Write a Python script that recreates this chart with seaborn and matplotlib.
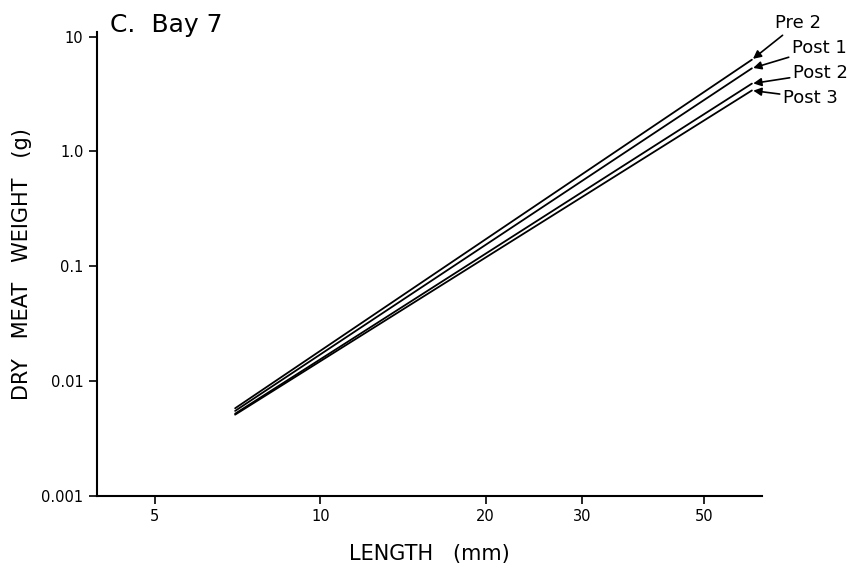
import numpy as np
import pandas as pd
import matplotlib
matplotlib.use("Agg")
import matplotlib.pyplot as plt
import seaborn as sns

# fitted length-weight lines, read at the two ends of each line
length_mm = [7.0, 61.0]
pre2 = [0.0058, 6.3]
post1 = [0.0055, 5.3]
post2 = [0.0052, 3.9]
post3 = [0.0051, 3.4]
series_names = ["Pre 2", "Post 1", "Post 2", "Post 3"]

x_ticks = [5, 10, 20, 30, 50]
y_ticks = [0.001, 0.01, 0.1, 1.0, 10]
y_tick_labels = ["0.001", "0.01", "0.1", "1.0", "10"]

df = pd.DataFrame({
    "length": length_mm * 4,
    "weight": pre2 + post1 + post2 + post3,
    "series": np.repeat(series_names, len(length_mm)),
})

sns.set_style("ticks")
plt.rcParams["font.family"] = ["DejaVu Sans"]
plt.rcParams["text.color"] = "black"
plt.rcParams["axes.labelcolor"] = "black"

fig = plt.figure(figsize=(8.56, 5.70), dpi=100)
ax = fig.add_axes([0.113, 0.130, 0.777, 0.814])

sns.lineplot(data=df, x="length", y="weight", hue="series",
             palette=["black"] * 4, linewidth=1.3, legend=False, ax=ax)

ax.set_xscale("log")
ax.set_yscale("log")
ax.set_xlim(3.92, 63.6)
ax.set_ylim(0.001, 11)

ax.set_xticks(x_ticks)
ax.set_xticklabels([str(t) for t in x_ticks])
ax.set_yticks(y_ticks)
ax.set_yticklabels(y_tick_labels)
ax.minorticks_off()
ax.tick_params(axis="both", direction="out", length=6, width=1.2,
               labelsize=10.5, colors="black")

sns.despine(ax=ax)
for side in ["left", "bottom"]:
    ax.spines[side].set_linewidth(1.5)
    ax.spines[side].set_color("black")

ax.set_xlabel("LENGTH   (mm)", fontsize=15, labelpad=14)
ax.set_ylabel("DRY   MEAT   WEIGHT   (g)", fontsize=15)
ax.yaxis.set_label_coords(-0.097, 0.5)

fig.text(110 / 856, 1 - 25 / 570, "C.  Bay 7", fontsize=18, va="center", ha="left")

# series labels with arrows to the line ends
ends = [pre2[-1], post1[-1], post2[-1], post3[-1]]
label_pos = [(775, 23), (792, 48), (793, 73), (783, 98)]
for name, y_end, (px, py) in zip(series_names, ends, label_pos):
    ax.annotate(name, xy=(length_mm[-1], y_end),
                xytext=(px / 856, 1 - py / 570), textcoords="figure fraction",
                fontsize=13, ha="left", va="center",
                arrowprops=dict(arrowstyle="-|>", color="black", lw=1.2,
                                mutation_scale=12, shrinkA=0, shrinkB=1))

fig.savefig("out.png", dpi=100)
